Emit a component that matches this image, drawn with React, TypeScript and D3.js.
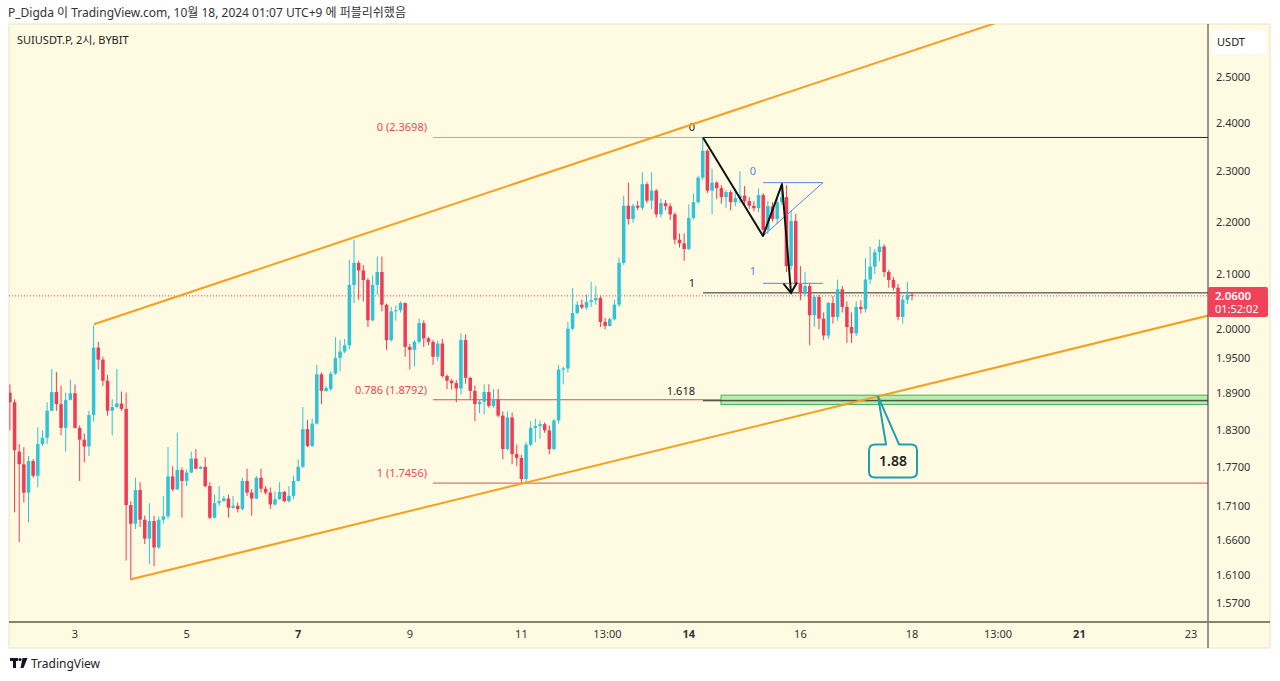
import React from 'react';
import * as d3 from 'd3';

// 2h candles, SUIUSDT.P, last candle opens Oct 18 00:00
const opens = [
  1.891, 1.875, 1.795, 1.775, 1.731, 1.780, 1.757, 1.807, 1.817, 1.861,
  1.892, 1.872, 1.833, 1.879, 1.890, 1.833, 1.814, 1.803, 1.854, 1.968,
  1.947, 1.911, 1.861, 1.867, 1.873, 1.864, 1.712, 1.684, 1.735, 1.690,
  1.662, 1.688, 1.649, 1.690, 1.695, 1.756, 1.736, 1.766, 1.749, 1.762,
  1.784, 1.768, 1.771, 1.741, 1.693, 1.715, 1.718, 1.722, 1.708, 1.711,
  1.706, 1.749, 1.731, 1.722, 1.754, 1.737, 1.731, 1.713, 1.721, 1.732,
  1.718, 1.726, 1.749, 1.771, 1.831, 1.804, 1.840, 1.922, 1.894, 1.897,
  1.923, 1.950, 1.961, 1.972, 2.080, 2.121, 2.107, 2.089, 2.016, 2.080,
  2.104, 2.044, 1.981, 2.032, 2.034, 2.047, 1.969, 1.964, 1.978, 2.011,
  1.984, 1.978, 1.952, 1.975, 1.919, 1.911, 1.907, 1.898, 1.981, 1.916,
  1.894, 1.872, 1.876, 1.892, 1.869, 1.880, 1.853, 1.799, 1.850, 1.791,
  1.785, 1.752, 1.806, 1.833, 1.836, 1.839, 1.829, 1.799, 1.845, 1.930,
  1.932, 2.001, 2.029, 2.044, 2.039, 2.049, 2.052, 2.056, 2.013, 2.006,
  2.018, 2.044, 2.121, 2.231, 2.205, 2.231, 2.227, 2.274, 2.241, 2.261,
  2.214, 2.236, 2.230, 2.214, 2.165, 2.158, 2.147, 2.207, 2.238, 2.287,
  2.342, 2.261, 2.277, 2.266, 2.248, 2.258, 2.238, 2.246, 2.251, 2.240,
  2.231, 2.226, 2.252, 2.184, 2.230, 2.205, 2.238, 2.248, 2.115, 2.201,
  2.082, 2.066, 2.078, 2.025, 2.058, 2.019, 1.989, 2.047, 2.022, 2.072,
  2.040, 2.004, 1.993, 2.040, 2.036, 2.090, 2.114, 2.141, 2.152, 2.104,
  2.089, 2.075, 2.022, 2.053, 2.062,
];
const highs = [
  1.905, 1.880, 1.807, 1.802, 1.788, 1.783, 1.834, 1.829, 1.875, 1.931,
  1.926, 1.903, 1.891, 1.913, 1.905, 1.837, 1.824, 1.861, 2.007, 1.978,
  1.952, 1.921, 1.880, 1.931, 1.893, 1.891, 1.718, 1.754, 1.747, 1.696,
  1.715, 1.696, 1.695, 1.726, 1.802, 1.772, 1.825, 1.770, 1.767, 1.795,
  1.799, 1.772, 1.786, 1.747, 1.728, 1.741, 1.726, 1.728, 1.726, 1.716,
  1.754, 1.768, 1.736, 1.757, 1.768, 1.741, 1.739, 1.733, 1.747, 1.734,
  1.741, 1.757, 1.783, 1.867, 1.846, 1.848, 1.938, 1.925, 1.902, 1.927,
  1.986, 1.981, 1.983, 2.127, 2.165, 2.125, 2.117, 2.093, 2.097, 2.133,
  2.133, 2.046, 2.040, 2.043, 2.050, 2.048, 1.974, 1.981, 2.019, 2.016,
  1.987, 1.981, 1.980, 1.983, 1.922, 1.914, 1.912, 1.993, 1.991, 1.918,
  1.903, 1.880, 1.905, 1.905, 1.897, 1.897, 1.860, 1.860, 1.858, 1.806,
  1.790, 1.810, 1.844, 1.848, 1.845, 1.842, 1.837, 1.848, 1.938, 1.935,
  2.013, 2.074, 2.050, 2.053, 2.063, 2.086, 2.078, 2.059, 2.020, 2.021,
  2.053, 2.131, 2.251, 2.277, 2.235, 2.240, 2.298, 2.278, 2.298, 2.264,
  2.245, 2.242, 2.236, 2.218, 2.177, 2.177, 2.234, 2.255, 2.291, 2.3698,
  2.345, 2.305, 2.280, 2.272, 2.262, 2.262, 2.265, 2.300, 2.270, 2.248,
  2.240, 2.265, 2.256, 2.240, 2.238, 2.245, 2.277, 2.272, 2.222, 2.215,
  2.115, 2.104, 2.082, 2.062, 2.062, 2.030, 2.049, 2.060, 2.090, 2.078,
  2.050, 2.030, 2.050, 2.052, 2.130, 2.152, 2.147, 2.165, 2.156, 2.108,
  2.095, 2.082, 2.060, 2.086, 2.066,
];
const lows = [
  1.829, 1.701, 1.657, 1.716, 1.686, 1.754, 1.739, 1.804, 1.807, 1.860,
  1.861, 1.821, 1.795, 1.878, 1.832, 1.749, 1.778, 1.788, 1.843, 1.930,
  1.902, 1.853, 1.821, 1.866, 1.861, 1.630, 1.603, 1.676, 1.679, 1.654,
  1.625, 1.622, 1.647, 1.684, 1.691, 1.733, 1.735, 1.693, 1.741, 1.761,
  1.767, 1.767, 1.739, 1.691, 1.692, 1.711, 1.717, 1.693, 1.706, 1.701,
  1.704, 1.726, 1.696, 1.721, 1.731, 1.728, 1.706, 1.711, 1.720, 1.716,
  1.716, 1.721, 1.748, 1.769, 1.802, 1.802, 1.838, 1.872, 1.892, 1.894,
  1.921, 1.927, 1.958, 1.965, 2.047, 2.053, 2.050, 2.004, 2.014, 2.062,
  2.032, 1.964, 1.978, 2.015, 2.030, 1.952, 1.930, 1.935, 1.975, 1.969,
  1.972, 1.938, 1.945, 1.916, 1.897, 1.896, 1.875, 1.888, 1.906, 1.880,
  1.844, 1.857, 1.855, 1.866, 1.866, 1.850, 1.783, 1.797, 1.775, 1.772,
  1.746, 1.747, 1.804, 1.810, 1.815, 1.825, 1.791, 1.797, 1.840, 1.905,
  1.925, 1.998, 2.026, 2.036, 2.035, 2.040, 2.044, 2.004, 2.000, 2.005,
  2.016, 2.040, 2.117, 2.194, 2.198, 2.222, 2.222, 2.236, 2.224, 2.208,
  2.208, 2.222, 2.203, 2.156, 2.150, 2.125, 2.145, 2.204, 2.235, 2.283,
  2.256, 2.214, 2.244, 2.235, 2.227, 2.222, 2.230, 2.236, 2.229, 2.225,
  2.220, 2.218, 2.172, 2.176, 2.200, 2.195, 2.233, 2.104, 2.108, 2.078,
  2.052, 2.060, 1.972, 2.004, 2.000, 1.981, 1.983, 2.010, 2.015, 2.030,
  1.976, 1.976, 1.988, 2.028, 2.030, 2.082, 2.100, 2.124, 2.095, 2.075,
  2.070, 2.016, 2.010, 2.045, 2.052,
];
const closes = [
  1.875, 1.797, 1.775, 1.731, 1.780, 1.757, 1.807, 1.817, 1.861, 1.892,
  1.872, 1.833, 1.879, 1.890, 1.833, 1.814, 1.803, 1.854, 1.968, 1.947,
  1.911, 1.861, 1.867, 1.873, 1.864, 1.712, 1.684, 1.735, 1.690, 1.662,
  1.688, 1.649, 1.690, 1.695, 1.756, 1.736, 1.766, 1.749, 1.762, 1.784,
  1.768, 1.771, 1.741, 1.693, 1.715, 1.718, 1.722, 1.708, 1.711, 1.706,
  1.749, 1.731, 1.722, 1.754, 1.737, 1.731, 1.713, 1.721, 1.732, 1.718,
  1.726, 1.749, 1.771, 1.831, 1.804, 1.840, 1.922, 1.894, 1.899, 1.923,
  1.950, 1.961, 1.972, 2.080, 2.121, 2.107, 2.089, 2.016, 2.080, 2.104,
  2.044, 1.981, 2.032, 2.034, 2.047, 1.969, 1.964, 1.978, 2.011, 1.984,
  1.978, 1.952, 1.975, 1.919, 1.911, 1.907, 1.898, 1.981, 1.916, 1.894,
  1.872, 1.876, 1.892, 1.869, 1.880, 1.853, 1.799, 1.850, 1.791, 1.785,
  1.752, 1.806, 1.833, 1.836, 1.839, 1.829, 1.799, 1.845, 1.930, 1.932,
  2.001, 2.029, 2.044, 2.039, 2.049, 2.052, 2.056, 2.013, 2.006, 2.018,
  2.044, 2.121, 2.231, 2.205, 2.231, 2.227, 2.274, 2.241, 2.261, 2.214,
  2.236, 2.230, 2.214, 2.165, 2.158, 2.147, 2.207, 2.238, 2.287, 2.342,
  2.261, 2.277, 2.266, 2.248, 2.258, 2.238, 2.246, 2.251, 2.240, 2.231,
  2.226, 2.252, 2.184, 2.230, 2.205, 2.238, 2.248, 2.115, 2.201, 2.082,
  2.066, 2.078, 2.025, 2.058, 2.019, 1.989, 2.047, 2.022, 2.072, 2.040,
  2.004, 1.993, 2.040, 2.036, 2.090, 2.114, 2.141, 2.152, 2.104, 2.089,
  2.075, 2.022, 2.053, 2.062, 2.060,
];

const lastCandleDay = 18; // day of month (local) of the newest candle
const candleStepDays = 2 / 24;

const priceTicks = [2.5, 2.4, 2.3, 2.2, 2.1, 2.0, 1.95, 1.89, 1.83, 1.77, 1.71, 1.66, 1.61, 1.57];
const timeTicks = [3, 5, 7, 9, 11, 12.5417, 14, 16, 18, 19.5417, 21, 23];
const timeTickLabels = ['3', '5', '7', '9', '11', '13:00', '14', '16', '18', '13:00', '21', '23'];
const boldTickLabels = ['7', '14', '21'];

// fib retracement (red)
const fibStartDay = 9.416;
const fibLevels = ['0', '0.786', '1'];
const fibPrices = [2.3698, 1.8792, 1.7456];

// trend-based fib extension (black)
const extStartDay = 14.254;
const extLevels = ['0', '1', '1.618'];
const extPrices = [2.3698, 2.0655, 1.8775];

const zigDays = [14.254, 15.33, 15.67, 15.832];
const zigPrices = [2.3698, 2.172, 2.274, 2.0655];

// small blue fib
const blueFibDays = [15.33, 16.405];
const blueFibLevels = ['0', '1'];
const blueFibPrices = [2.277, 2.083];
const blueTrendPrices = [2.172, 2.277];

// channel
const upperChannelDays = [3.34, 13.358];
const upperChannelPrices = [2.009, 2.3698];
const lowerChannelDays = [3.986, 17.391];
const lowerChannelPrices = [1.603, 1.8848];

const zoneStartDay = 14.577;
const zonePrices = [1.8868, 1.8712];

const lastPrice = 2.06;
const countdown = '01:52:02';
const calloutDay = 17.391;
const calloutPrice = 1.8848;
const calloutText = '1.88';

const W = 1280;
const H = 681;
const frame = { left: 9, top: 24, right: 1270, bottom: 648 };
const plot = { left: 9, top: 24, right: 1208, bottom: 622 };

const UP = '#2ec4d6';
const DOWN = '#ef3b55';
const FIB_RED = '#e84a55';
const ORANGE = '#f5a01f';
const BLUE = '#5a86e0';
const BG = '#fffbe3';
const FONT = "'Noto Sans', 'Noto Sans CJK KR', sans-serif";

const x = d3.scaleLinear().domain([3, 23]).range([75, 1191]);
const y = d3.scaleLog().domain([1.57, 2.5]).range([603, 77]);

const fmt = d3.format('.4f');

function extendLine(days: number[], prices: number[], toX: number) {
  const x1 = x(days[0]), y1 = y(prices[0]);
  const x2 = x(days[1]), y2 = y(prices[1]);
  const k = (y2 - y1) / (x2 - x1);
  return `M${x1},${y1}L${toX},${y1 + k * (toX - x1)}`;
}

export default function App() {
  const n = opens.length;
  const days = opens.map((_, i) => lastCandleDay - (n - 1 - i) * candleStepDays);
  const bodyW = 3.5;

  const zig = d3.line<number>()
    .x((_, i) => x(zigDays[i]))
    .y((_, i) => y(zigPrices[i]))(zigPrices.map((_, i) => i));

  // arrow head at the end of the zigzag
  const ax = x(zigDays[3]), ay = y(zigPrices[3]);
  const px = x(zigDays[2]), py = y(zigPrices[2]);
  const ang = Math.atan2(ay - py, ax - px);
  const ah = 12;
  const arrow = `M${ax - ah * Math.cos(ang - 0.6)},${ay - ah * Math.sin(ang - 0.6)}L${ax},${ay}L${ax - ah * Math.cos(ang + 0.6)},${ay - ah * Math.sin(ang + 0.6)}`;

  // callout
  const cx = x(calloutDay), cy = y(calloutPrice);
  const bx = cx - 9, by = cy + 48, bw = 48, bh = 33, r = 6;
  const callout = `M${bx + r},${by}L${bx + 17},${by}L${cx},${cy}L${bx + 30},${by}L${bx + bw - r},${by}` +
    `Q${bx + bw},${by} ${bx + bw},${by + r}L${bx + bw},${by + bh - r}Q${bx + bw},${by + bh} ${bx + bw - r},${by + bh}` +
    `L${bx + r},${by + bh}Q${bx},${by + bh} ${bx},${by + bh - r}L${bx},${by + r}Q${bx},${by} ${bx + r},${by}Z`;

  const lastY = y(lastPrice);

  return (
    <svg width={W} height={H} style={{ position: 'absolute', left: 0, top: 0, display: 'block', background: '#fff' }}
      fontFamily={FONT}>
      <defs>
        <clipPath id="plotClip">
          <rect x={plot.left} y={plot.top} width={plot.right - plot.left} height={plot.bottom - plot.top} />
        </clipPath>
      </defs>

      <text x={8} y={17} fontSize={12} fill="#333">P_Digda 이 TradingView.com, 10월 18, 2024 01:07 UTC+9 에 퍼블리쉬했음</text>

      <rect x={frame.left} y={frame.top} width={frame.right - frame.left} height={frame.bottom - frame.top}
        fill={BG} stroke="#e6e3cf" strokeWidth={1} />

      <text x={17} y={44} fontSize={11} fill="#222">SUIUSDT.P, 2시, BYBIT</text>

      <g clipPath="url(#plotClip)">
        {/* current price dotted line */}
        <line x1={plot.left} x2={plot.right} y1={lastY} y2={lastY} stroke={DOWN} strokeWidth={1} strokeDasharray="1,2" />

        {/* red fib retracement */}
        {fibPrices.map((p, i) => (
          <g key={'fib' + i}>
            <line x1={x(fibStartDay)} x2={plot.right} y1={y(p)} y2={y(p)} stroke={i === 0 ? '#f0939a' : FIB_RED} strokeWidth={1} />
            <text x={x(fibStartDay) - 6} y={y(p) - 6} fontSize={11} fill={FIB_RED} textAnchor="end">{`${fibLevels[i]} (${p.toFixed(4)})`}</text>
          </g>
        ))}

        {/* green zone */}
        <rect x={x(zoneStartDay)} y={y(zonePrices[0])} width={plot.right - x(zoneStartDay)}
          height={y(zonePrices[1]) - y(zonePrices[0])} fill="#a6e6a0" fillOpacity={0.75} stroke="#43b05c" strokeWidth={1} />

        {/* black fib extension lines */}
        {extPrices.map((p, i) => (
          <g key={'ext' + i}>
            <line x1={x(extStartDay)} x2={plot.right} y1={y(p)} y2={y(p)} stroke="#2a2a2a" strokeWidth={1} />
            <text x={i === 2 ? x(extStartDay) - 8 : x(extStartDay) - 11} y={y(p) - 6} fontSize={11} fill="#222"
              textAnchor={i === 2 ? 'end' : 'middle'}>{extLevels[i]}</text>
          </g>
        ))}

        {/* candles */}
        {opens.map((o, i) => {
          const c = closes[i];
          const col = c >= o ? UP : DOWN;
          const cxp = x(days[i]);
          const top = y(Math.max(o, c));
          const bot = y(Math.min(o, c));
          return (
            <g key={'c' + i}>
              <line x1={cxp} x2={cxp} y1={y(highs[i])} y2={y(lows[i])} stroke={col} strokeWidth={1} />
              <rect x={cxp - bodyW / 2} y={top} width={bodyW} height={Math.max(1, bot - top)} fill={col} />
            </g>
          );
        })}

        {/* orange channel */}
        <path d={extendLine(upperChannelDays, upperChannelPrices, 1400)} stroke={ORANGE} strokeWidth={2} fill="none" />
        <path d={extendLine(lowerChannelDays, lowerChannelPrices, 1400)} stroke={ORANGE} strokeWidth={2} fill="none" />

        {/* blue fib */}
        {blueFibPrices.map((p, i) => (
          <g key={'bf' + i}>
            <line x1={x(blueFibDays[0])} x2={x(blueFibDays[1])} y1={y(p)} y2={y(p)} stroke={BLUE} strokeWidth={1} />
            <text x={x(blueFibDays[0]) - 10} y={y(p) - 8} fontSize={11} fill={BLUE} textAnchor="middle">{blueFibLevels[i]}</text>
          </g>
        ))}
        <line x1={x(blueFibDays[0])} y1={y(blueTrendPrices[0])} x2={x(blueFibDays[1])} y2={y(blueTrendPrices[1])}
          stroke={BLUE} strokeWidth={1} />

        {/* zigzag */}
        <path d={zig || ''} stroke="#111" strokeWidth={2} fill="none" strokeLinejoin="round" />
        <path d={arrow} stroke="#111" strokeWidth={2} fill="none" />

        {/* callout */}
        <path d={callout} fill={BG} stroke="#1f9fae" strokeWidth={2} strokeLinejoin="round" />
        <text x={bx + bw / 2} y={by + bh / 2 + 5} fontSize={14} fontWeight={600} fill="#222" textAnchor="middle">{calloutText}</text>
      </g>

      {/* axes lines */}
      <line x1={plot.right} x2={plot.right} y1={frame.top} y2={frame.bottom} stroke="#333" strokeWidth={1} />
      <line x1={frame.left} x2={frame.right} y1={plot.bottom} y2={plot.bottom} stroke="#85846f" strokeWidth={2} />

      {/* price axis */}
      <rect x={1212} y={30} width={54} height={24} rx={4} fill="#fff" />
      <text x={1231} y={46} fontSize={11} fill="#222" textAnchor="middle">USDT</text>
      {priceTicks.map(p => (
        <text key={'pt' + p} x={1216} y={y(p) + 4} fontSize={11} fill="#333">{fmt(p)}</text>
      ))}
      <rect x={plot.right} y={lastY - 9} width={60} height={30} rx={2} fill="#f0435a" />
      <text x={1215} y={lastY + 4} fontSize={11.5} fontWeight={600} fill="#fff">{fmt(lastPrice)}</text>
      <text x={1215} y={lastY + 17} fontSize={11} fill="#fff">{countdown}</text>

      {/* time axis */}
      {timeTicks.map((t, i) => (
        <text key={'tt' + i} x={x(t)} y={638} fontSize={11} textAnchor="middle" fill="#333"
          fontWeight={boldTickLabels.includes(timeTickLabels[i]) ? 700 : 400}>{timeTickLabels[i]}</text>
      ))}

      {/* TradingView logo */}
      <g fill="#131722">
        <rect x={10} y={658} width={8} height={3} />
        <rect x={13} y={658} width={3} height={10} />
        <circle cx={20} cy={659.5} r={1.6} />
        <path d="M22.5,658 L27.5,658 L23.5,668 L20.5,668 Z" />
      </g>
      <text x={31} y={668} fontSize={12} fill="#222">TradingView</text>
    </svg>
  );
}
